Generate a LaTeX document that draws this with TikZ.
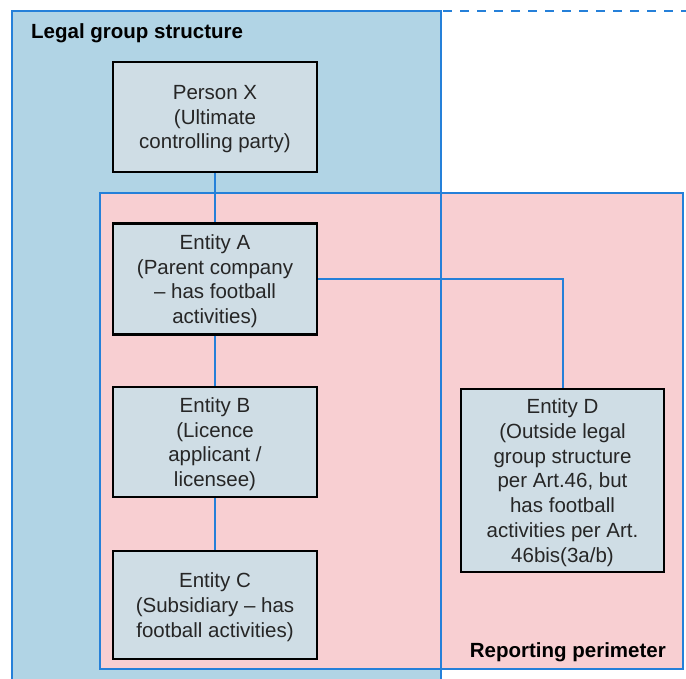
\documentclass[tikz,border=0pt]{standalone}
\usepackage{fontspec}
\setmainfont{Liberation Sans}
\definecolor{legalblue}{HTML}{B1D4E5}
\definecolor{perimpink}{HTML}{F8CFD2}
\definecolor{lineblue}{HTML}{2580D9}
\definecolor{boxfill}{HTML}{CFDDE5}
\definecolor{txt}{HTML}{262626}
\begin{document}
\begin{tikzpicture}[x=1pt,y=-1pt,
  conn/.style={draw=lineblue, line width=2pt},
  entity/.style={draw=black, line width=2.2pt, fill=boxfill, minimum width=204pt,
    minimum height=110pt, inner sep=0pt, align=center, text=txt, text depth=-3pt,
    font=\fontsize{20.5}{24.7}\selectfont},
  region/.style={font=\bfseries\fontsize{20.5}{24}\selectfont, text=black, inner sep=0pt}]
\useasboundingbox (0,0) rectangle (686,679);
% regions
\fill[legalblue] (12,11) rectangle (441,679);
\fill[perimpink] (100,193) rectangle (683,669);
\draw[conn] (100,193) rectangle (683,669);
\draw[conn] (12,679) -- (12,11) -- (441,11) -- (441,679);
\draw[conn, dash pattern=on 9pt off 8pt] (443,11) -- (686,11);
\node[region, anchor=base west] (lgs) at (31,39) {Legal group structure};
\node[region, anchor=base east] (rp) at (666,657) {Reporting perimeter};
% entities
\node[entity] (X) at (215,117) {Person X\\(Ultimate\\controlling party)};
\node[entity, minimum height=111pt] (A) at (215,279) {Entity A\\(Parent company\\– has football\\activities)};
\node[entity] (B) at (215,442) {Entity B\\(Licence\\applicant /\\licensee)};
\node[entity, minimum height=108pt] (C) at (215,605) {Entity C\\(Subsidiary – has\\football activities)};
\node[entity, minimum width=203pt, minimum height=183pt] (D) at (562.5,480.5) {Entity D\\(Outside legal\\group structure\\per Art.46, but\\has football\\activities per Art.\\46bis(3a/b)};
% connectors
\draw[conn] (X) -- (A);
\draw[conn] (A) -- (B);
\draw[conn] (B) -- (C);
\draw[conn] (A.east) -| (D.north);
\end{tikzpicture}
\end{document}
